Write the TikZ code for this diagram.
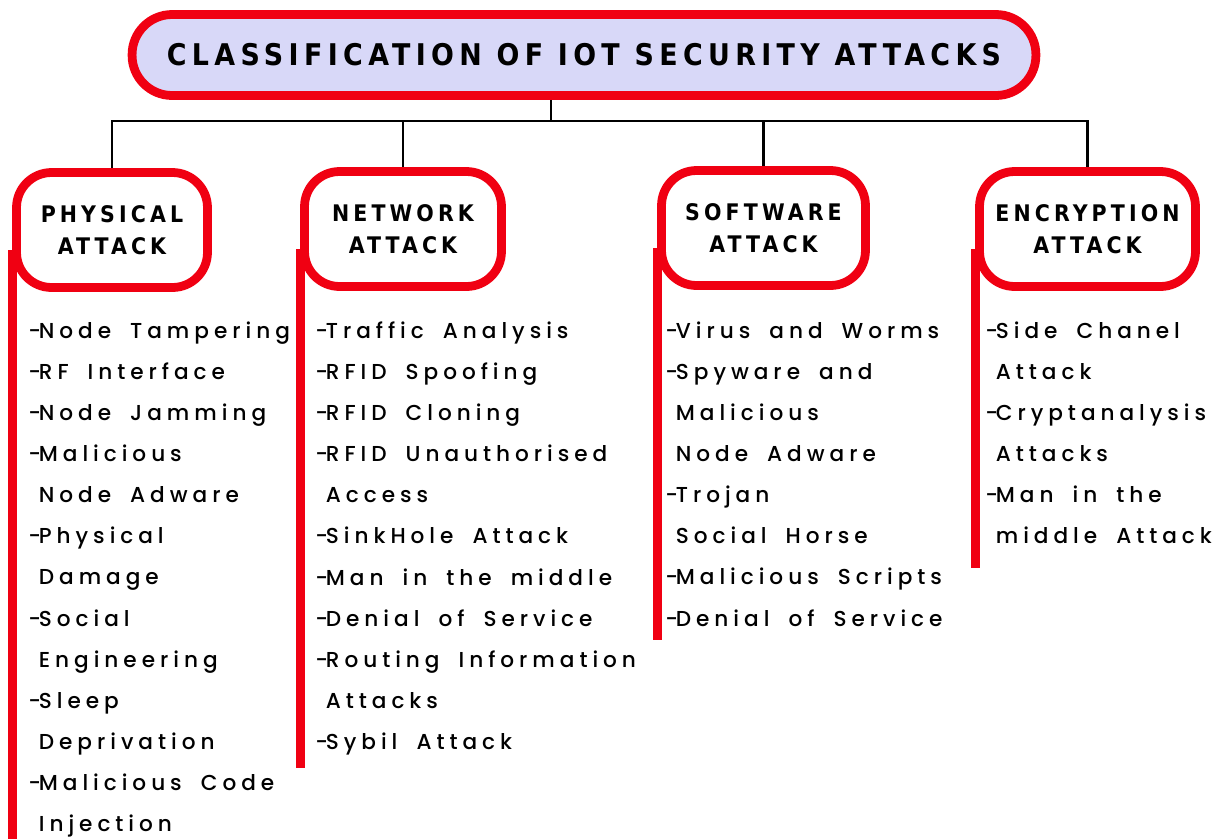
\documentclass[tikz,border=0pt]{standalone}
\usepackage{fontspec}
\newfontfamily\headfont{DejaVu Sans Condensed}[LetterSpace=18]
\newfontfamily\itemfont{Poppins Medium}[LetterSpace=23,WordSpace=1.8]
\definecolor{boxred}{RGB}{240,0,18}
\definecolor{titlefill}{RGB}{216,216,248}
\newcommand{\gap}{\phantom{-}\kern-1.2pt}
\newcommand{\itm}{-\kern-1.2pt}
\begin{document}
\begin{tikzpicture}[x=0.02cm,y=-0.02cm]
    \useasboundingbox (0,0) rectangle (1225,839);
    \begin{scope}
        \tikzstyle{every node}=[draw=boxred, line width=5pt, text=black, align=center]
        \node[fill=titlefill, minimum width=18.08cm, minimum height=1.62cm, rounded corners=0.8cm,
            font=\headfont\bfseries\fontsize{17}{20}\selectfont] (title) at (584,55) {CLASSIFICATION OF IOT SECURITY ATTACKS};
        \tikzstyle{every node}+=[fill=white, minimum height=2.3cm, rounded corners=0.7cm,
            font=\headfont\bfseries\fontsize{13}{18}\selectfont]
        \node[minimum width=3.82cm] (phys) at (112,230) {PHYSICAL\\ATTACK};
        \node[minimum width=3.94cm] (net) at (403,229) {NETWORK\\ATTACK};
        \node[minimum width=4.08cm] (soft) at (763.5,228) {SOFTWARE\\ATTACK};
        \node[minimum width=4.32cm] (enc) at (1087.5,229) {ENCRYPTION\\ATTACK};
    \end{scope}
    \coordinate (bus) at (551,121);
    \begin{scope}
        \tikzstyle{every path}=[draw, line width=1.7pt, black]
        \path (bus |- title.south) -- (bus);
        \path (bus) -| (phys.north);
        \path (bus) -| (net.north);
        \path (bus) -| (soft.north);
        \path (bus) -| (enc.north);
    \end{scope}
    \coordinate (physend) at (15,839);
    \coordinate (netend) at (302,768);
    \coordinate (softend) at (660,640);
    \coordinate (encend) at (977,568);
    \begin{scope}
        \tikzstyle{every path}=[draw=boxred, line width=5pt]
        \path ([yshift=-0.4cm]phys.west) -- (phys.west |- physend);
        \path ([yshift=-0.4cm]net.west) -- (net.west |- netend);
        \path ([yshift=-0.4cm]soft.west) -- (soft.west |- softend);
        \path ([yshift=-0.4cm]enc.west) -- (enc.west |- encend);
    \end{scope}
    \begin{scope}
        \tikzstyle{every node}=[anchor=north west, inner sep=0pt, align=left, text=black,
            font=\itemfont\fontsize{12.3}{23.43}\selectfont]
        \node (physlist) at (28,321) {\itm Node Tampering\\\itm RF Interface\\\itm Node Jamming\\\itm Malicious\\\gap Node Adware\\\itm Physical\\\gap Damage\\\itm Social\\\gap Engineering\\\itm Sleep\\\gap Deprivation\\\itm Malicious Code\\\gap Injection};
        \node (netlist) at (315,321) {\itm Traffic Analysis\\\itm RFID Spoofing\\\itm RFID Cloning\\\itm RFID Unauthorised\\\gap Access\\\itm SinkHole Attack\\\itm Man in the middle\\\itm Denial of Service\\\itm Routing Information\\\gap Attacks\\\itm Sybil Attack};
        \node (softlist) at (665,321) {\itm Virus and Worms\\\itm Spyware and\\\gap Malicious\\\gap Node Adware\\\itm Trojan\\\gap Social Horse\\\itm Malicious Scripts\\\itm Denial of Service};
        \node (enclist) at (985,321) {\itm Side Chanel\\\gap Attack\\\itm Cryptanalysis\\\gap Attacks\\\itm Man in the\\\gap middle Attack};
    \end{scope}
\end{tikzpicture}
\end{document}
